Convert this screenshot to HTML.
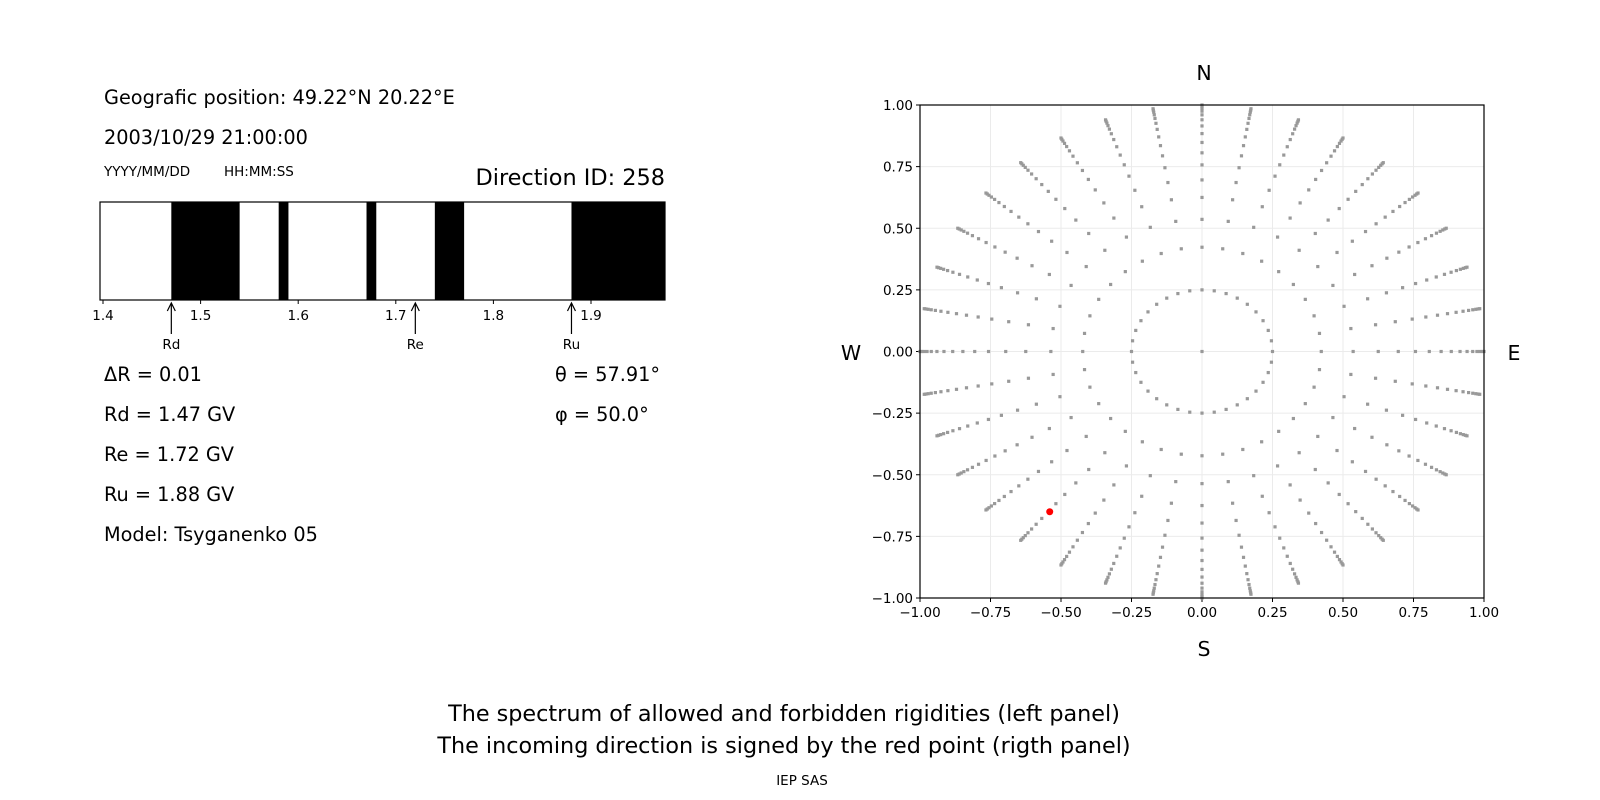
<!DOCTYPE html>
<html><head><meta charset="utf-8"><style>
html,body{margin:0;padding:0;background:#fff;}
svg{display:block;font-family:"DejaVu Sans","Liberation Sans",sans-serif;}
</style></head><body>
<svg id="s" width="1600" height="800" viewBox="0 0 1600 800" xmlns="http://www.w3.org/2000/svg">
<rect width="1600" height="800" fill="#fff"/>
<g font-size="19.3" fill="#000">
<text x="104" y="104">Geografic position: 49.22°N 20.22°E</text>
<text x="104" y="144">2003/10/29 21:00:00</text>
<text x="104" y="176" font-size="13.5">YYYY/MM/DD</text>
<text x="224" y="176" font-size="13.5">HH:MM:SS</text>
<text x="665" y="185" font-size="22.4" text-anchor="end">Direction ID: 258</text>
<text x="104" y="381">ΔR = 0.01</text>
<text x="104" y="421">Rd = 1.47 GV</text>
<text x="104" y="461">Re = 1.72 GV</text>
<text x="104" y="501">Ru = 1.88 GV</text>
<text x="104" y="541">Model: Tsyganenko 05</text>
<text x="555" y="381">θ = 57.91°</text>
<text x="555" y="421">φ = 50.0°</text>
</g>
<g id="bar"></g>
<g id="pol"></g>
<g font-size="20.5" text-anchor="middle">
<text x="1204" y="80">N</text>
<text x="1204" y="656">S</text>
<text x="851" y="360">W</text>
<text x="1514" y="360">E</text>
</g>
<g font-size="22.3" text-anchor="middle">
<text x="784" y="721">The spectrum of allowed and forbidden rigidities (left panel)</text>
<text x="784" y="753">The incoming direction is signed by the red point (rigth panel)</text>
<text x="802" y="785" font-size="13.5">IEP SAS</text>
</g>
</svg>
<script>
const NS="http://www.w3.org/2000/svg";
function el(p,t,a,txt){const e=document.createElementNS(NS,t);for(const k in a)e.setAttribute(k,a[k]);if(txt!==undefined)e.textContent=txt;p.appendChild(e);return e;}
const bar=document.getElementById('bar');
const X=v=>103+(v-1.4)*976;
const L=100,R=665,T=202,B=300;
el(bar,'rect',{x:L,y:T,width:R-L,height:B-T,fill:'#fff'});
[[1.47,1.54],[1.58,1.59],[1.67,1.68],[1.74,1.77],[1.88,2.0]].forEach(([a,b])=>{
 const x1=X(a),x2=Math.min(X(b),R);
 el(bar,'rect',{x:x1,y:T,width:x2-x1,height:B-T,fill:'#000'});
});
el(bar,'rect',{x:L,y:T,width:R-L,height:B-T,fill:'none',stroke:'#000','stroke-width':1.2});
[1.4,1.5,1.6,1.7,1.8,1.9].forEach(v=>{const x=X(v);
 el(bar,'line',{x1:x,y1:B,x2:x,y2:B+4,stroke:'#000'});
 el(bar,'text',{x:x,y:B+20,'font-size':13.5,'text-anchor':'middle'},v.toFixed(1));});
[[1.47,'Rd'],[1.72,'Re'],[1.88,'Ru']].forEach(([v,t])=>{const x=X(v);
 el(bar,'line',{x1:x,y1:334,x2:x,y2:304,stroke:'#000','stroke-width':1.2});
 el(bar,'path',{d:`M${x-4},${311} L${x},${303} L${x+4},${311}`,fill:'none',stroke:'#000','stroke-width':1.2});
 el(bar,'text',{x:x,y:349,'font-size':13.5,'text-anchor':'middle'},t);});
const pol=document.getElementById('pol');
const pl=920,pr=1484,pt=105,pb=598,cx=(pl+pr)/2,cy=(pt+pb)/2,sx=(pr-pl)/2,sy=(pb-pt)/2;
const px=x=>cx+x*sx,py=y=>cy-y*sy;
for(let i=-4;i<=4;i++){const v=i*0.25;
 el(pol,'line',{x1:px(v),y1:pt,x2:px(v),y2:pb,stroke:'#ebebeb','stroke-width':1});
 el(pol,'line',{x1:pl,y1:py(v),x2:pr,y2:py(v),stroke:'#ebebeb','stroke-width':1});
 el(pol,'line',{x1:px(v),y1:pb,x2:px(v),y2:pb+4,stroke:'#000'});
 el(pol,'line',{x1:pl,y1:py(v),x2:pl-4,y2:py(v),stroke:'#000'});
 el(pol,'text',{x:px(v),y:pb+19,'font-size':13.5,'text-anchor':'middle'},v.toFixed(2).replace('-','−'));
 el(pol,'text',{x:pl-7,y:py(v)+5,'font-size':13.5,'text-anchor':'end'},v.toFixed(2).replace('-','−'));
}
const rs=[0.25,0.423,0.536,0.625,0.696,0.757,0.806,0.848,0.884,0.915,0.94,0.96,0.975,0.986,0.994,1.0];
el(pol,'rect',{x:px(0)-1.6,y:py(0)-1.6,width:3.2,height:3.2,fill:'#999'});
for(let a=0;a<360;a+=10){const t=a*Math.PI/180;
 rs.forEach(r=>{el(pol,'rect',{x:px(r*Math.cos(t))-1.6,y:py(r*Math.sin(t))-1.6,width:3.2,height:3.2,fill:'#999'});});}
el(pol,'circle',{cx:px(-0.54),cy:py(-0.65),r:3.5,fill:'#f00'});
el(pol,'rect',{x:pl,y:pt,width:pr-pl,height:pb-pt,fill:'none',stroke:'#000','stroke-width':1.2});
</script>
</body></html>
